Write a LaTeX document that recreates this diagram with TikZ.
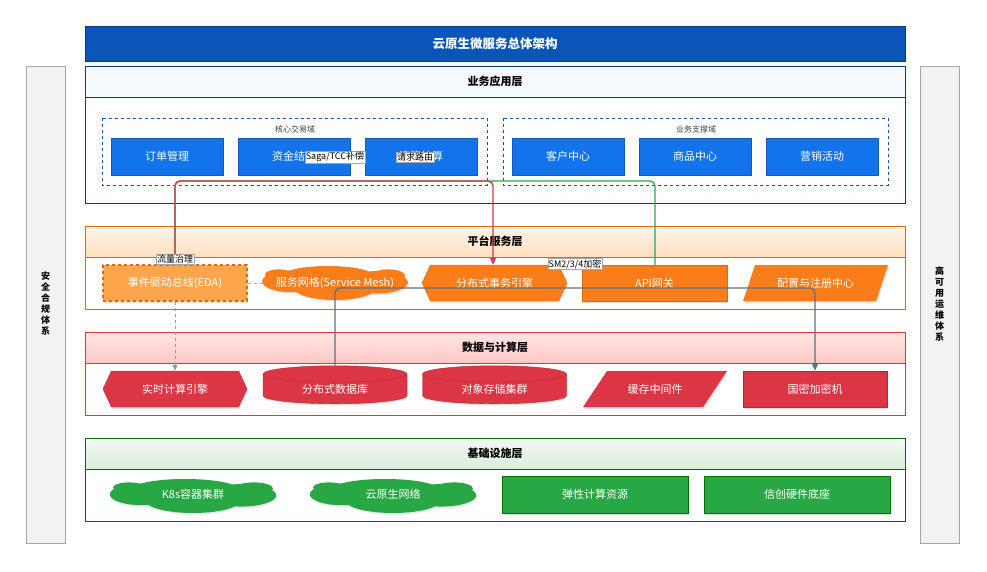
\documentclass[tikz,border=0pt]{standalone}
\usepackage{fontspec}
\setmainfont{Noto Sans CJK SC}
\usetikzlibrary{shapes.geometric,shapes.symbols,shadows,arrows.meta}
\definecolor{tblue}{HTML}{0B55B8}
\definecolor{bblue}{HTML}{1273EB}
\definecolor{borange}{HTML}{FA7D19}
\definecolor{dorange}{HTML}{E8650A}
\definecolor{bred}{HTML}{DC3545}
\definecolor{bgreen}{HTML}{28A745}
\definecolor{slate}{HTML}{5F6F86}
\newcommand{\mycloud}[5]{%
 \begin{scope}[shift={(#1,#2)},x=#3pt,y=#4pt]
 \fill[#5,drop shadow={opacity=0.2,shadow xshift=1pt,shadow yshift=-1.5pt}] (-0.32,0.05) ellipse (0.2 and 0.32) (0,-0.12) ellipse (0.3 and 0.38) (0.3,0.02) ellipse (0.22 and 0.33) (-0.05,0.2) ellipse (0.33 and 0.3) (0.38,0.22) ellipse (0.12 and 0.18) (-0.4,0.25) ellipse (0.1 and 0.15);
 \end{scope}}
\begin{document}
\begin{tikzpicture}[x=1pt,y=-1pt,
  every node/.style={font=\fontsize{11}{13}\selectfont},
  sh/.style={drop shadow={opacity=0.25,shadow xshift=1pt,shadow yshift=-1.5pt}},
  hdr/.style={font=\fontsize{11}{13}\selectfont\bfseries},
  box/.style={sh,text=white,minimum height=37pt,inner sep=0pt},
  lbl/.style={fill=white,draw=gray!70,line width=0.3pt,inner sep=1pt,font=\fontsize{9}{10}\selectfont},
  side/.style={fill=gray!10,draw=gray!70,line width=0.5pt}]
\useasboundingbox (0,0) rectangle (987,572);
\fill[white] (0,0) rectangle (987,572);
% title
\node[fill=tblue,draw=tblue!70!black,minimum width=820pt,minimum height=35pt,text=white,font=\fontsize{12.5}{14}\selectfont\bfseries] (title) at (495,43.5) {云原生微服务总体架构};
% sides
\draw[side] (26,66) rectangle (65,543);
\node[font=\fontsize{9}{11}\selectfont\bfseries,align=center] (left) at (45.5,304) {安\\全\\合\\规\\体\\系};
\draw[side] (920,66) rectangle (959,543);
\node[font=\fontsize{9}{11}\selectfont\bfseries,align=center] (right) at (939.5,304) {高\\可\\用\\运\\维\\体\\系};
% layers
\newcommand{\layer}[6]{%
 \draw[#3,line width=0.6pt] (85,#1) rectangle (905,#2);
 \shade[top color=#4,bottom color=#5,draw=#3,line width=0.6pt] (85,#1) rectangle (905,#1+31);
 \node[hdr] at (495,#1+15.5) {#6};}
\layer{66}{203}{tblue!70!black}{blue!3}{blue!15!cyan!5}{业务应用层}
\layer{226}{309}{dorange}{orange!8}{orange!25}{平台服务层}
\layer{332}{415}{bred}{red!10}{red!22}{数据与计算层}
\layer{438}{521}{green!40!black}{green!40!black!4}{green!40!gray!22}{基础设施层}
% domains
\draw[tblue,dashed,line width=0.6pt] (102,118) rectangle (487,185);
\node[font=\fontsize{8}{9}\selectfont\itshape,text=gray!50!black] (d1) at (295,129) {核心交易域};
\draw[tblue,dashed,line width=0.6pt] (503,118) rectangle (888,185);
\node[font=\fontsize{8}{9}\selectfont\itshape,text=gray!50!black] (d2) at (696,129) {业务支撑域};
% business boxes
\tikzset{bb/.style={box,fill=bblue,draw=bblue!80!black,line width=0.5pt,minimum width=112pt}}
\node[bb] (o1) at (167,156.5) {订单管理};
\node[bb] (o2) at (294,156.5) {资金结算};
\node[bb] (o3) at (421,156.5) {清算核算};
\node[bb] (o4) at (568,156.5) {客户中心};
\node[bb] (o5) at (695,156.5) {商品中心};
\node[bb] (o6) at (822,156.5) {营销活动};
% platform
\node[box,fill=orange!70,draw=dorange,dashed,line width=1.5pt,minimum width=144pt,minimum height=36pt] (eda) at (175,283) {事件驱动总线(EDA)};
\mycloud{335}{283}{140}{34}{borange}
\node[minimum width=135pt,minimum height=30pt,inner sep=0pt,text=white] (mesh) at (335,283) {服务网格(Service Mesh)};
\node[signal,signal to=east and west,signal pointer angle=130,fill=borange,draw=dorange,text=white,sh,minimum width=145pt,minimum height=36pt,inner sep=0pt] (tx) at (494.5,283) {分布式事务引擎};
\node[box,fill=borange,draw=dorange,minimum width=145pt,minimum height=36pt] (api) at (654.5,283) {API网关};
\node[minimum width=145pt,minimum height=36pt,inner sep=0pt] (cfg) at (815.5,283) {};
\fill[borange,sh] (755,265) -- (888,265) -- (876,301) -- (743,301) -- cycle;
\node[text=white] at (cfg) {配置与注册中心};
% data
\node[signal,signal to=east and west,signal pointer angle=130,fill=bred,draw=bred!80!black,text=white,sh,minimum width=144pt,minimum height=36pt,inner sep=0pt] (rt) at (175,389) {实时计算引擎};
\tikzset{cyl/.style={cylinder,shape border rotate=90,aspect=0.25,fill=bred,draw=bred!80!black,text=white,sh,minimum width=144pt,minimum height=38pt,inner sep=0pt}}
\node[cyl] (db) at (335,389) {分布式数据库};
\node[cyl] (os) at (494.5,389) {对象存储集群};
\node[minimum width=145pt,minimum height=36pt,inner sep=0pt] (cache) at (655,389) {};
\fill[bred,sh] (607,371) -- (727,371) -- (703,407) -- (583,407) -- cycle;
\node[text=white] at (cache) {缓存中间件};
\node[box,fill=bred,draw=bred!80!black,minimum width=144pt,minimum height=36pt] (hsm) at (815,389) {国密加密机};
% infra
\mycloud{193}{496}{160}{34}{bgreen}
\node[text=white] (k8s) at (193,494) {K8s容器集群};
\mycloud{393}{496}{160}{34}{bgreen}
\node[text=white] (net) at (393,494) {云原生网络};
\node[box,fill=bgreen,draw=green!45!black,minimum width=186pt,minimum height=37pt] (ec) at (595,494.5) {弹性计算资源};
\node[box,fill=bgreen,draw=green!45!black,minimum width=186pt,minimum height=37pt] (xc) at (797,494.5) {信创硬件底座};
% connectors
\draw[gray!70,dashed,line width=1pt] (eda.east) -- (mesh.west);
\draw[slate!70,dashed,line width=1pt,-{Triangle[length=6pt,width=5pt]}] (eda.south) -- (rt.north);
\draw[bgreen,line width=1.3pt,rounded corners=5pt] (eda.north) -- (175,181) -- (655,181) -- (api.north -| 655,0);
\draw[bred,line width=1.3pt,rounded corners=5pt,-{Triangle[length=7pt,width=6pt]}] (eda.north) -- (175,181) -- (493,181) -- (tx.north -| 493,0);
\draw[slate,line width=1.3pt,rounded corners=5pt,-{Triangle[length=7pt,width=6pt]}] (db.north) -- (335,288) -- (815,288) -- (hsm.north);
% labels
\node[lbl] (l1) at (335,157) {Saga/TCC补偿};
\node[lbl] (l2) at (415,157) {请求路由};
\node[lbl] (l3) at (175,259) {流量治理};
\node[lbl] (l4) at (575,264) {SM2/3/4加密};
\end{tikzpicture}
\end{document}
